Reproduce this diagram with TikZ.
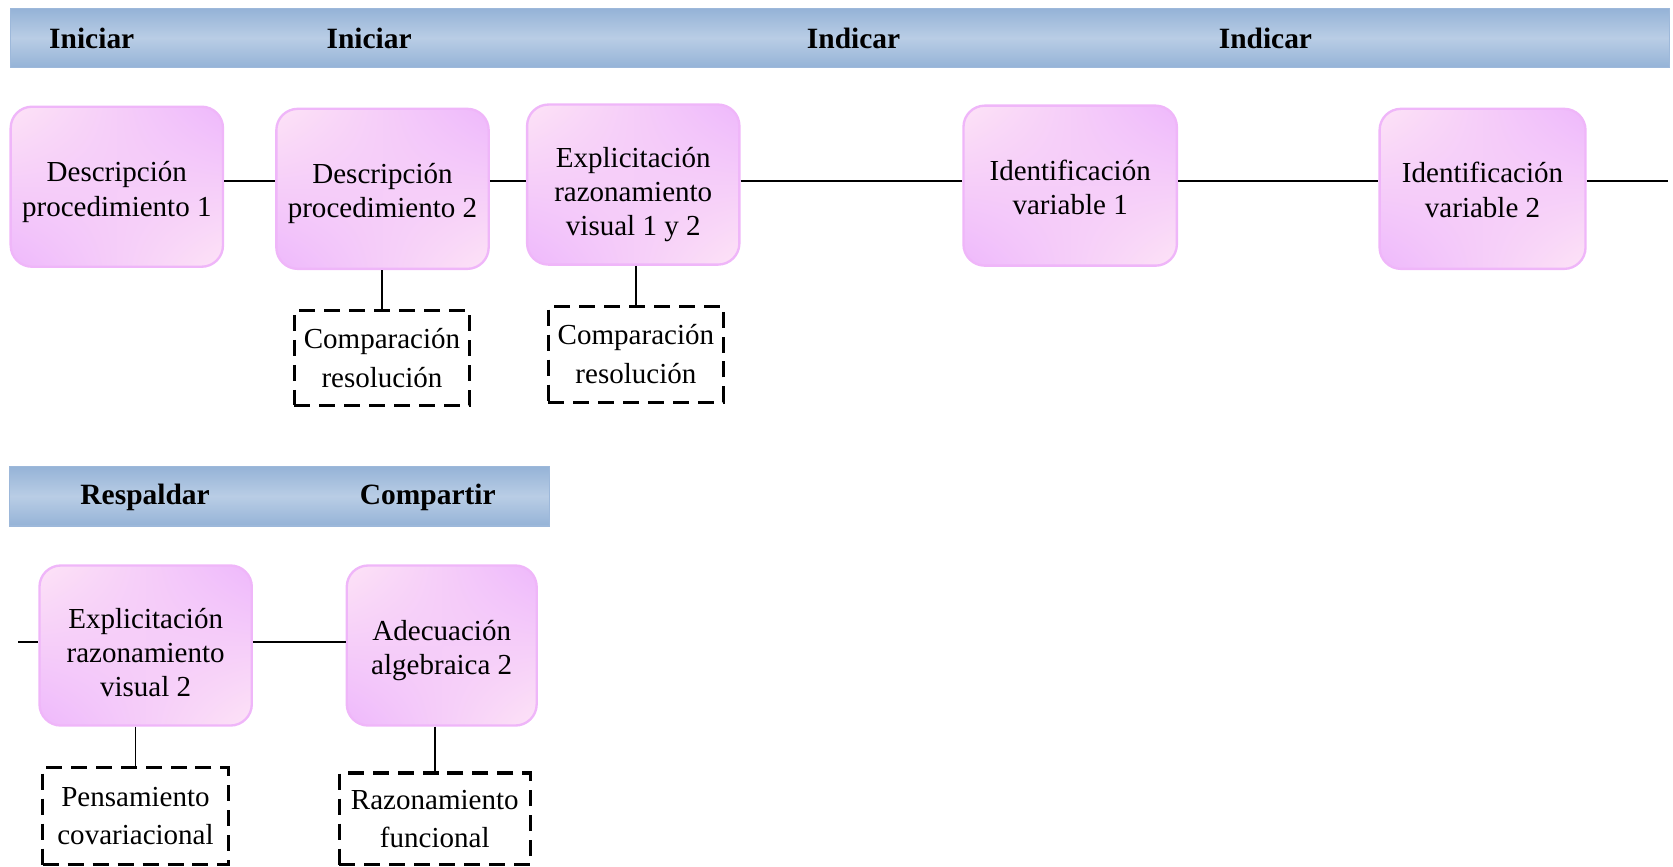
\documentclass[tikz,border=0pt]{standalone}
\usepackage{fontspec}
\setmainfont{Liberation Serif}
\usetikzlibrary{shadings}
\definecolor{banddark}{HTML}{95B3D7}
\definecolor{bandlight}{HTML}{B9CDE5}
\definecolor{bandedge}{HTML}{9DB8DA}
\definecolor{pinklight}{HTML}{FDE3F6}
\definecolor{violetdeep}{HTML}{EEB8FC}
\definecolor{stageedge}{HTML}{EFB6F9}
\begin{document}
\begin{tikzpicture}[x=0.5pt,y=-0.5pt,
  font=\fontsize{13.6}{16}\selectfont,
  band/.style={draw=bandedge, line width=0.6pt, top color=banddark,
    bottom color=banddark, middle color=bandlight, inner sep=0pt},
  bandlabel/.style={font=\fontsize{13.8}{16}\selectfont\bfseries},
  stage/.style={draw=stageedge, line width=1.1pt, rounded corners=10pt,
    shade, upper left=pinklight, lower right=pinklight,
    upper right=violetdeep, lower left=violetdeep,
    inner sep=0pt, minimum height=75pt},
  stagetext/.style={align=center, inner sep=0pt},
  note/.style={draw=black, line width=1.6pt, dash pattern=on 7.5pt off 4.2pt,
    align=center, inner sep=1pt, font=\fontsize{13.6}{18}\selectfont},
  link/.style={line width=0.9pt}
]
\useasboundingbox (0,0) rectangle (1568,812);

% ---- first phase band ----
\node[band, minimum width=777.5pt, minimum height=27.5pt] (band1) at (787.5,35.5) {};
\node[bandlabel] (l1) at (86,36) {Iniciar};
\node[bandlabel] (l2) at (346,36) {Iniciar};
\node[bandlabel] (l3) at (800,36) {Indicar};
\node[bandlabel] (l4) at (1186,36) {Indicar};

% ---- first row of stages ----
\node[stage, minimum width=99.5pt] (s1) at (109.5,175) {};
\node[stage, minimum width=99.5pt] (s2) at (358.5,177) {};
\node[stage, minimum width=99.5pt] (s3) at (593.5,173) {};
\node[stage, minimum width=100pt]  (s4) at (1003,174) {};
\node[stage, minimum width=96.5pt] (s5) at (1389.5,177) {};
\node[stagetext] (s1t) at ([yshift=-2.5pt]s1.center) {Descripción\\procedimiento 1};
\node[stagetext] (s2t) at ([yshift=-2pt]s2.center) {Descripción\\procedimiento 2};
\node[stagetext] (s3t) at ([yshift=-4.7pt]s3.center) {Explicitación\\razonamiento\\visual 1 y 2};
\node[stagetext] (s4t) at ([yshift=-1pt]s4.center) {Identificación\\variable 1};
\node[stagetext] (s5t) at ([yshift=-0.5pt]s5.center) {Identificación\\variable 2};

\node[note, minimum width=82pt, minimum height=44.5pt] (n1) at (358,335.5) {Comparación\\resolución};
\node[note, minimum width=82pt, minimum height=45pt] (n2) at (596,332) {Comparación\\resolución};

\coordinate (row1) at (0,170);
\coordinate (end1) at (1563,170);
\draw[link] (s1.east |- row1) -- (s2.west |- row1);
\draw[link] (s2.east |- row1) -- (s3.west |- row1);
\draw[link] (s3.east |- row1) -- (s4.west |- row1);
\draw[link] (s4.east |- row1) -- (s5.west |- row1);
\draw[link] (s5.east |- row1) -- (end1);
\draw[link] (n1.north |- s2.south) -- (n1.north);
\draw[link] (n2.north |- s3.south) -- (n2.north);

% ---- second phase band ----
\node[band, minimum width=253pt, minimum height=28pt] (band2) at (262,465) {};
\node[bandlabel] (l5) at (136,466) {Respaldar};
\node[bandlabel] (l6) at (401,466) {Compartir};

% ---- second row of stages ----
\node[stage, minimum width=99.5pt] (s6) at (136.5,605) {};
\node[stage, minimum width=89pt]   (s7) at (414,605) {};
\node[stagetext] (s6t) at ([yshift=-3.2pt]s6.center) {Explicitación\\razonamiento\\visual 2};
\node[stagetext] (s7t) at ([yshift=-2.5pt]s7.center) {Adecuación\\algebraica 2};

\node[note, minimum width=87pt, minimum height=45.5pt] (n3) at (127,765) {Pensamiento\\covariacional};
\node[note, minimum width=89.5pt, minimum height=43pt] (n4) at (407.5,767.5) {Razonamiento\\funcional};

\coordinate (row2) at (0,602);
\coordinate (start2) at (17,602);
\draw[link] (start2) -- (s6.west |- row2);
\draw[link] (s6.east |- row2) -- (s7.west |- row2);
\draw[link] (n3.north |- s6.south) -- (n3.north);
\draw[link] (n4.north |- s7.south) -- (n4.north);
\end{tikzpicture}
\end{document}
